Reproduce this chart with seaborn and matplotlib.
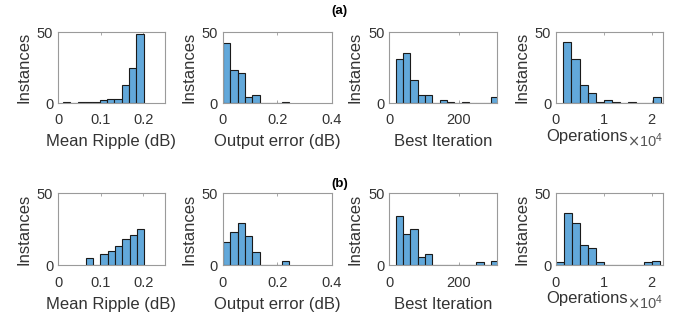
import numpy as np
import pandas as pd
import matplotlib
matplotlib.use("Agg")
import matplotlib.pyplot as plt
from matplotlib.ticker import ScalarFormatter
import seaborn as sns

sns.set_theme(style="white")
plt.rcParams['font.family'] = ['Liberation Sans', 'DejaVu Sans']

# ---------------- data (bin edges + counts) ----------------
ripple_edges = [0.0116, 0.0288, 0.046, 0.0632, 0.0804, 0.0976, 0.1148, 0.132, 0.1492, 0.1664, 0.1836, 0.2008]
ripple_a = [1, 0, 1, 1, 1, 2, 3, 3, 13, 25, 49]
ripple_b_edges = [0.0648, 0.082, 0.0992, 0.1164, 0.1336, 0.1508, 0.168, 0.1852, 0.2024]
ripple_b = [5, 0, 8, 10, 13, 18, 21, 25]

error_edges = [0.0, 0.027, 0.054, 0.081, 0.108, 0.135, 0.162, 0.189, 0.216, 0.243]
error_a = [42, 23, 21, 4, 6, 0, 0, 0, 1]
error_b = [16, 23, 29, 20, 9, 0, 0, 0, 3]

iter_edges = [19, 40, 61, 82, 103, 124, 145, 166, 187, 208, 229, 250, 271, 292, 313]
iter_a = [31, 35, 16, 6, 6, 0, 2, 1, 0, 1, 0, 0, 0, 4]
iter_b = [34, 22, 25, 6, 8, 0, 0, 0, 0, 0, 0, 2, 0, 3]

ops_a_edges = [1500, 3200, 4900, 6600, 8300, 10000, 11700, 13400, 15100, 16800, 18500, 20200, 21900]
ops_a = [43, 31, 13, 7, 1, 2, 1, 0, 1, 0, 0, 4]
ops_b_edges = [0, 1667, 3333, 5000, 6667, 8333, 10000, 11667, 13333, 15000, 16667, 18333, 20000, 21667]
ops_b = [2, 36, 29, 14, 12, 2, 0, 0, 0, 0, 0, 2, 3]

xlabels = ["Mean Ripple (dB)", "Output error (dB)", "Best Iteration", "Operations"]
xlims = [(0, 0.25), (0, 0.4), (0, 310), (0, 22300)]
xticks = [[0, 0.1, 0.2], [0, 0.2, 0.4], [0, 200], [0, 10000, 20000]]
row_titles = ["(a)", "(b)"]

panels = [
    [(ripple_edges, ripple_a), (error_edges, error_a), (iter_edges, iter_a), (ops_a_edges, ops_a)],
    [(ripple_b_edges, ripple_b), (error_edges, error_b), (iter_edges, iter_b), (ops_b_edges, ops_b)],
]

bar_color = "#62A8DA"
edge_color = "#1a1a1a"
frame_color = "#9a9a9a"
text_color = "#333333"

fig = plt.figure(figsize=(6.84, 3.21), dpi=100)
lefts = [0.0848, 0.326, 0.569, 0.813]
widths = [0.156, 0.159, 0.158, 0.156]
bottoms = [0.679, 0.174]
heights = [0.221, 0.224]

for r in range(2):
    for c in range(4):
        ax = fig.add_axes([lefts[c], bottoms[r], widths[c], heights[r]])
        edges, counts = panels[r][c]
        e = np.asarray(edges, dtype=float)
        centers = ((e[:-1] + e[1:]) / 2).tolist()
        df = pd.DataFrame({"x": centers, "n": [float(v) for v in counts]})
        sns.histplot(data=df, x="x", weights="n", bins=list(edges), ax=ax,
                     color=bar_color, edgecolor=edge_color, linewidth=0.8, alpha=1.0)
        ax.set_xlim(*xlims[c])
        ax.set_ylim(0, 50)
        ax.set_xticks(xticks[c])
        ax.set_yticks([0, 50])
        ax.set_xlabel(xlabels[c], fontsize=12, color=text_color,
                      labelpad=(1 if c == 3 else 5))
        ax.set_ylabel("Instances", fontsize=12, color=text_color, labelpad=4)
        ax.tick_params(axis="x", pad=7.5)
        ax.tick_params(axis="y", pad=3.5)
        ax.tick_params(direction="in", length=2.5, width=0.6, colors=frame_color,
                       labelcolor=text_color, labelsize=10.5, top=True, right=True,
                       bottom=True, left=True)
        for s in ax.spines.values():
            s.set_color(frame_color)
            s.set_linewidth(0.8)
        if c == 3:
            fmt = ScalarFormatter(useMathText=True)
            fmt.set_powerlimits((0, 0))
            ax.xaxis.set_major_formatter(fmt)
            off = ax.xaxis.get_offset_text()
            off.set_fontsize(10.5)
            off.set_color("#555555")
            ax.xaxis.label.set_x(0.29)
        if c in (0, 1):
            ax.xaxis.set_major_formatter(plt.FuncFormatter(lambda v, p: f"{v:g}"))

fig.text(0.496, 0.965, row_titles[0], fontsize=9.5, fontweight="bold", ha="center", va="center", color="black")
fig.text(0.496, 0.428, row_titles[1], fontsize=9.5, fontweight="bold", ha="center", va="center", color="black")

fig.savefig("out.png", dpi=100)
